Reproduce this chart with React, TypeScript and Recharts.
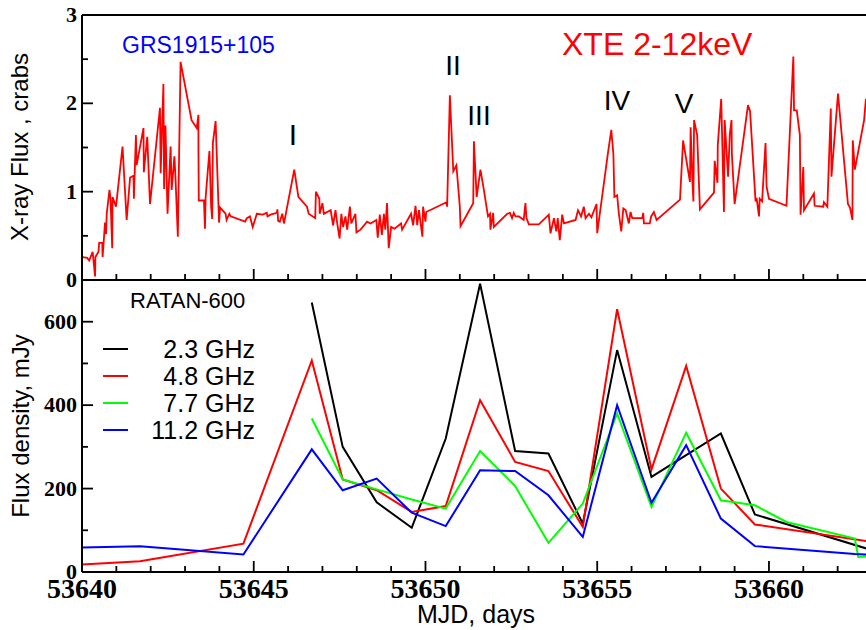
import { LineChart, Line, XAxis, YAxis, Legend } from 'recharts';

// RXTE ASM 2-12 keV light curve (MJD, crabs)
const xrayMjd = [
  53640.02, 53640.15, 53640.21, 53640.31, 53640.38, 53640.39, 53640.48, 53640.5, 53640.59, 53640.6,
  53640.67, 53640.7, 53640.72, 53640.8, 53640.83, 53640.88, 53640.89, 53640.99, 53641.18, 53641.3,
  53641.4, 53641.5, 53641.51, 53641.57, 53641.59, 53641.79, 53641.8, 53641.9, 53641.98, 53642.27,
  53642.29, 53642.37, 53642.39, 53642.43, 53642.49, 53642.58, 53642.61, 53642.69, 53642.72, 53642.79,
  53642.87, 53643.19, 53643.34, 53643.39, 53643.39, 53643.4, 53643.55, 53643.58, 53643.6, 53643.71,
  53643.76, 53643.79, 53643.81, 53643.89, 53643.99, 53644.02, 53644.18, 53644.21, 53644.29, 53644.33,
  53644.75, 53644.8, 53644.89, 53644.97, 53645.09, 53645.26, 53645.38, 53645.4, 53645.49, 53645.67,
  53645.69, 53645.71, 53645.76, 53645.83, 53645.88, 53646.18, 53646.3, 53646.55, 53646.6, 53646.79,
  53646.81, 53646.91, 53646.92, 53647.0, 53647.04, 53647.24, 53647.31, 53647.38, 53647.43, 53647.5,
  53647.55, 53647.6, 53647.67, 53647.72, 53647.8, 53647.84, 53647.96, 53647.99, 53648.11, 53648.3,
  53648.4, 53648.57, 53648.61, 53648.67, 53648.73, 53648.79, 53648.83, 53648.88, 53648.93, 53649.0,
  53649.1, 53649.29, 53649.32, 53649.58, 53649.64, 53649.71, 53649.76, 53649.81, 53649.91, 53649.93,
  53650.0, 53650.02, 53650.61, 53650.63, 53650.71, 53650.81, 53650.9, 53651.0, 53651.02, 53651.39,
  53651.41, 53651.49, 53651.6, 53651.7, 53651.82, 53651.88, 53651.89, 53651.97, 53651.99, 53652.38,
  53652.46, 53652.52, 53652.57, 53652.62, 53652.72, 53652.86, 53652.91, 53652.94, 53653.01, 53653.3,
  53653.59, 53653.64, 53653.74, 53653.81, 53653.85, 53653.91, 53653.98, 53654.03, 53654.37, 53654.44,
  53654.53, 53654.61, 53654.66, 53654.76, 53654.83, 53654.98, 53655.0, 53655.31, 53655.41, 53655.47,
  53655.5, 53655.58, 53655.63, 53655.7, 53655.76, 53655.83, 53655.92, 53655.97, 53656.02, 53656.31,
  53656.34, 53656.36, 53656.53, 53656.57, 53656.65, 53656.73, 53657.41, 53657.5, 53657.7, 53657.72,
  53657.77, 53657.8, 53657.82, 53657.91, 53657.99, 53658.4, 53658.42, 53658.5, 53658.51, 53658.61,
  53658.69, 53658.71, 53658.81, 53658.86, 53658.91, 53658.92, 53659.0, 53659.39, 53659.45, 53659.61,
  53659.64, 53659.71, 53659.73, 53659.8, 53659.9, 53659.93, 53660.0, 53660.51, 53660.71, 53660.73,
  53660.81, 53660.9, 53660.92, 53661.0, 53661.02, 53661.31, 53661.33, 53661.58, 53661.6, 53661.7,
  53661.8, 53661.82, 53662.01, 53662.3, 53662.36, 53662.43, 53662.44, 53662.5, 53662.77, 53662.82,
  53662.95,
];
const xrayCrabs = [
  0.26, 0.25, 0.22, 0.32, 0.04, 0.26, 0.32, 0.42, 0.42, 0.26,
  0.65, 0.52, 0.75, 1.02, 0.92, 0.36, 0.94, 0.83, 1.51, 0.68,
  1.16, 1.18, 0.92, 1.64, 1.3, 1.72, 1.22, 1.62, 0.86, 1.95,
  1.21, 2.22, 1.03, 1.75, 0.75, 1.51, 1.02, 1.4, 1.17, 0.49,
  2.47, 1.81, 1.72, 1.87, 1.49, 0.9, 0.9, 0.58, 0.94, 1.46,
  0.83, 0.69, 1.55, 1.8, 0.65, 0.82, 0.75, 0.68, 0.75, 0.72,
  0.66, 0.7, 0.72, 0.6, 0.75, 0.74, 0.76, 0.72, 0.74, 0.76,
  0.8, 0.67, 0.66, 0.75, 0.64, 1.25, 0.94, 0.83, 0.75, 0.7,
  1.0, 0.92, 0.75, 0.87, 0.75, 0.79, 0.62, 0.79, 0.64, 0.47,
  0.75, 0.6, 0.72, 0.57, 0.83, 0.64, 0.75, 0.54, 0.57, 0.66,
  0.64, 0.68, 0.48, 0.74, 0.51, 0.75, 0.57, 0.87, 0.36, 0.6,
  0.58, 0.64, 0.57, 0.75, 0.62, 0.84, 0.62, 0.79, 0.49, 0.83,
  0.66, 0.77, 0.88, 0.83, 2.09, 1.23, 1.3, 0.83, 0.61, 0.87,
  1.57, 0.94, 1.25, 1.02, 0.72, 0.75, 0.57, 0.76, 0.6, 0.75,
  0.76, 0.7, 0.76, 0.72, 0.72, 0.68, 0.87, 0.7, 0.63, 0.63,
  0.74, 0.53, 0.7, 0.55, 0.7, 0.45, 0.74, 0.64, 0.68, 0.79,
  0.72, 0.83, 0.7, 0.75, 0.71, 0.86, 0.53, 1.43, 1.7, 1.43,
  0.94, 0.96, 0.75, 0.55, 0.81, 0.79, 0.64, 0.77, 0.7, 0.7,
  0.76, 0.64, 0.64, 0.72, 0.77, 0.68, 0.91, 1.58, 1.11, 1.73,
  1.13, 0.89, 1.81, 1.64, 0.8, 0.99, 1.35, 1.1, 1.53, 2.05,
  0.77, 1.81, 1.17, 1.65, 1.81, 1.43, 0.86, 1.98, 1.91, 0.89,
  0.93, 0.72, 0.92, 0.89, 1.55, 1.06, 0.92, 0.84, 2.53, 1.92,
  1.92, 1.64, 0.74, 1.28, 0.79, 0.98, 0.84, 0.83, 0.88, 0.83,
  1.94, 1.17, 2.11, 0.86, 0.82, 0.68, 1.58, 1.25, 1.81, 2.04,
  2.1,
];

// RATAN-600 radio flux densities (mJy)
const radioMjd = [
  53640.0, 53641.69, 53644.7, 53646.69, 53647.59, 53648.58, 53649.6, 53650.59, 53651.59, 53652.61,
  53653.58, 53654.58, 53655.58, 53656.58, 53657.59, 53658.6, 53659.59, 53660.51, 53662.5, 53662.6,
  53662.85,
];
const flux23 = [null, null, null, 646, 300, 167, 106, 320, 691, 290, 284, 116, 532, 228, 280, 332, 138, null, null, null, 56];
const flux48 = [18, 26, 68, 507, 222, 196, 144, 158, 412, 264, 242, 108, 630, 246, 494, 200, 114, null, null, null, 74];
const flux77 = [null, null, null, 368, 222, 198, 174, 152, 290, 206, 70, 164, 380, 156, 334, 172, 160, 120, 80, 36, 37];
const flux112 = [59, 62, 42, 294, 196, 224, 142, 110, 244, 242, 184, 84, 400, 166, 304, 128, 62, null, 43, null, 42];
const legendOrder = ['2.3 GHz', '4.8 GHz', '7.7 GHz', '11.2 GHz'];

const dayTicks = Array.from({ length: 24 }, (_, i) => 53640 + i);
const crabTicks = [0, 0.5, 1, 1.5, 2, 2.5, 3];
const mjyTicks = [0, 100, 200, 300, 400, 500, 600, 700];

const xrayData = xrayMjd.map((d, i) => ({ d, v: xrayCrabs[i] }));
const series = (vals: (number | null)[]) =>
  radioMjd.map((d, i) => ({ d, v: vals[i] })).filter(p => p.v !== null);

const SANS = '"Liberation Sans", Arial, Helvetica, sans-serif';
const SERIF = '"Liberation Serif", "Times New Roman", serif';
const axisLine = { stroke: '#000', strokeWidth: 2 };

// inward tick marks; dir = -1 draws upward, +1 downward
const xTick = (dir: number, labels: boolean) => (props: any) => {
  const { x, y, payload } = props;
  const major = payload.value % 5 === 0;
  const len = major ? 11 : 6;
  return (
    <g>
      <line x1={x} x2={x} y1={y} y2={y + dir * len} stroke="#000" strokeWidth={1.8} />
      {labels && major && (
        <text x={x} y={y + 26} textAnchor="middle" fontFamily={SERIF} fontWeight="bold" fontSize={28} fill="#000">
          {payload.value}
        </text>
      )}
    </g>
  );
};

const yTick = (dir: number, majorStep: number, labels: boolean, skip?: number) => (props: any) => {
  const { x, y, payload } = props;
  const v = payload.value;
  const major = Math.abs(v / majorStep - Math.round(v / majorStep)) < 1e-6;
  const len = major ? 11 : 6;
  return (
    <g>
      <line x1={x} x2={x + dir * len} y1={y} y2={y} stroke="#000" strokeWidth={1.8} />
      {labels && major && v !== skip && (
        <text x={x - 5} y={y + 7} textAnchor="end" fontFamily={SERIF} fontWeight="bold" fontSize={22} fill="#000">
          {v}
        </text>
      )}
    </g>
  );
};

const RadioLegend = (props: any) => {
  const items = [...(props.payload || [])].sort(
    (a: any, b: any) => legendOrder.indexOf(a.value) - legendOrder.indexOf(b.value)
  );
  return (
    <svg width={200} height={120} style={{ overflow: 'visible' }}>
      {items.map((it: any, i: number) => (
        <g key={it.value}>
          <line x1={8} x2={33} y1={19 + 27 * i} y2={19 + 27 * i} stroke={it.color} strokeWidth={2} />
          <text x={160} y={28 + 27 * i} textAnchor="end" fontFamily={SANS} fontSize={25} fill="#000">
            {it.value}
          </text>
        </g>
      ))}
    </svg>
  );
};

export default function App() {
  const W = 880;
  const H = 630;
  const zero = { top: 0, right: 0, bottom: 0, left: 0 };
  return (
    <div style={{ position: 'fixed', left: 0, top: 0, width: 866, height: 630, overflow: 'hidden', background: '#fff' }}>
      {/* X-ray panel */}
      <div style={{ position: 'absolute', left: 0, top: 0 }}>
        <LineChart width={W} height={H} margin={zero}>
          <XAxis xAxisId="b" dataKey="d" type="number" domain={[53640, 53663]} ticks={dayTicks} interval={0}
            height={350} tickSize={0} tickMargin={0} tickLine={false} axisLine={axisLine} tick={xTick(-1, false)} />
          <XAxis xAxisId="t" orientation="top" dataKey="d" type="number" domain={[53640, 53663]} ticks={dayTicks} interval={0}
            height={15} tickSize={0} tickMargin={0} tickLine={false} axisLine={axisLine} tick={xTick(1, false)} />
          <YAxis yAxisId="l" type="number" domain={[0, 3]} ticks={crabTicks} interval={0} width={82}
            tickSize={0} tickMargin={0} tickLine={false} axisLine={axisLine} tick={yTick(1, 1, true)} />
          <YAxis yAxisId="r" orientation="right" type="number" domain={[0, 3]} ticks={crabTicks} interval={0} width={8}
            tickSize={0} tickMargin={0} tickLine={false} axisLine={axisLine} tick={yTick(-1, 1, false)} />
          <Line xAxisId="b" yAxisId="l" data={xrayData} dataKey="v" type="linear" stroke="#ff0000" strokeWidth={1.8}
            dot={false} isAnimationActive={false} />
        </LineChart>
      </div>
      {/* radio panel */}
      <div style={{ position: 'absolute', left: 0, top: 0 }}>
        <LineChart width={W} height={H} margin={zero}>
          <XAxis xAxisId="b" dataKey="d" type="number" domain={[53640, 53663]} ticks={dayTicks} interval={0}
            height={58} tickSize={0} tickMargin={0} tickLine={false} axisLine={axisLine} tick={xTick(-1, true)} />
          <XAxis xAxisId="t" orientation="top" dataKey="d" type="number" domain={[53640, 53663]} ticks={dayTicks} interval={0}
            height={280} tickSize={0} tickMargin={0} tickLine={false} axisLine={axisLine} tick={xTick(1, false)} />
          <YAxis yAxisId="l" type="number" domain={[0, 700]} ticks={mjyTicks} interval={0} width={82}
            tickSize={0} tickMargin={0} tickLine={false} axisLine={axisLine} tick={yTick(1, 200, true, 700)} />
          <YAxis yAxisId="r" orientation="right" type="number" domain={[0, 700]} ticks={mjyTicks} interval={0} width={8}
            tickSize={0} tickMargin={0} tickLine={false} axisLine={axisLine} tick={yTick(-1, 200, false)} />
          <Legend layout="horizontal" verticalAlign="middle" align="center" content={RadioLegend}
            wrapperStyle={{ position: 'absolute', left: 95, top: 330, width: 200, height: 120 }} />
          <Line xAxisId="b" yAxisId="l" name="2.3 GHz" data={series(flux23)} dataKey="v" stroke="#000000" strokeWidth={2}
            dot={false} isAnimationActive={false} />
          <Line xAxisId="b" yAxisId="l" name="4.8 GHz" data={series(flux48)} dataKey="v" stroke="#ff0000" strokeWidth={2}
            dot={false} isAnimationActive={false} />
          <Line xAxisId="b" yAxisId="l" name="7.7 GHz" data={series(flux77)} dataKey="v" stroke="#00ff00" strokeWidth={2}
            dot={false} isAnimationActive={false} />
          <Line xAxisId="b" yAxisId="l" name="11.2 GHz" data={series(flux112)} dataKey="v" stroke="#0000ff" strokeWidth={2}
            dot={false} isAnimationActive={false} />
        </LineChart>
      </div>
      {/* annotations */}
      <svg width={866} height={630} style={{ position: 'absolute', left: 0, top: 0, pointerEvents: 'none' }}>
        <text transform="translate(28,147) rotate(-90)" textAnchor="middle" fontFamily={SANS} fontSize={24}>X-ray Flux , crabs</text>
        <text transform="translate(29,426) rotate(-90)" textAnchor="middle" fontFamily={SANS} fontSize={24}>Flux density, mJy</text>
        <text x={476} y={623} textAnchor="middle" fontFamily={SANS} fontSize={25}>MJD, days</text>
        <text x={122} y={53} fontFamily={SANS} fontSize={23} fill="#0000ff">GRS1915+105</text>
        <text x={562} y={55} fontFamily={SANS} fontSize={32} fill="#ff0000">XTE 2-12keV</text>
        <text x={293} y={145} textAnchor="middle" fontFamily={SANS} fontSize={30}>I</text>
        <text x={453} y={75} textAnchor="middle" fontFamily={SANS} fontSize={28}>II</text>
        <text x={479} y={125} textAnchor="middle" fontFamily={SANS} fontSize={28}>III</text>
        <text x={617} y={110} textAnchor="middle" fontFamily={SANS} fontSize={28}>IV</text>
        <text x={684} y={113} textAnchor="middle" fontFamily={SANS} fontSize={28}>V</text>
        <text x={130} y={308} fontFamily={SANS} fontSize={22}>RATAN-600</text>
      </svg>
    </div>
  );
}
